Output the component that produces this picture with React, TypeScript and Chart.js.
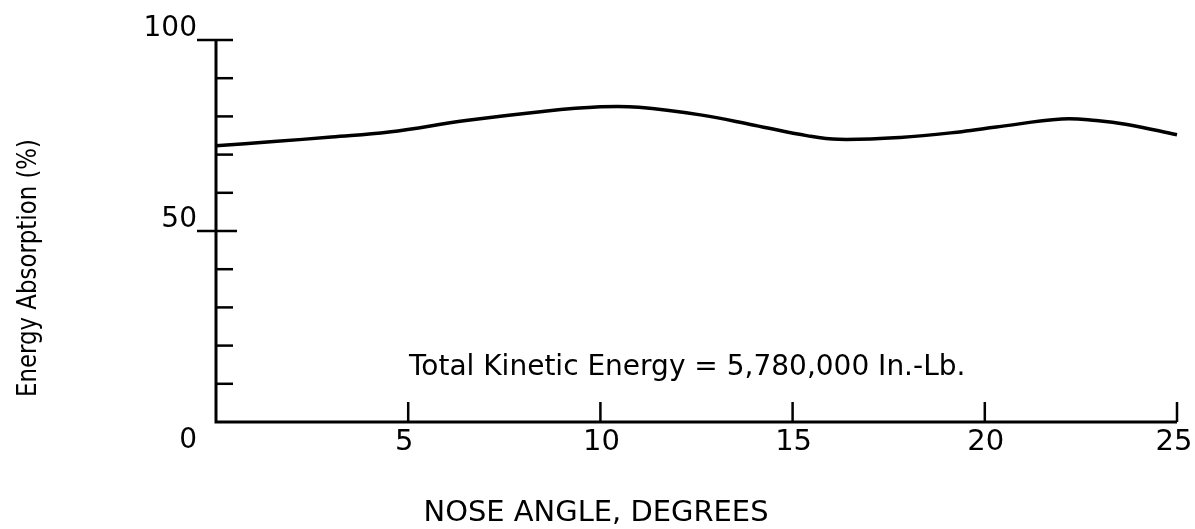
import React, { useEffect, useRef } from "react";
import { Chart, registerables } from "chart.js";

Chart.register(...registerables);

const angles = [0, 1.5, 3, 4.5, 6.5, 8.5, 10, 11, 12.6, 14, 15.4, 16.2, 17.8, 19.4, 20.3, 22.0, 22.9, 23.7, 25];
const absorption = [72.3, 73.4, 74.6, 75.9, 78.9, 81.3, 82.5, 82.4, 80.4, 77.7, 74.9, 74.0, 74.5, 76.0, 77.2, 79.3, 78.9, 77.9, 75.2];

const xTickValues = [5, 10, 15, 20, 25];
const xTickLabels = ["5", "10", "15", "20", "25"];
const yTickValues = [10, 20, 30, 40, 50, 60, 70, 80, 90, 100];
const yLabelValues = [0, 50, 100];
const yLabelTexts = ["0", "50", "100"];

const annotationText = "Total Kinetic Energy = 5,780,000 In.-Lb.";
const xTitle = "NOSE ANGLE, DEGREES";
const yTitle = "Energy Absorption (%)";

const FONT = "'DejaVu Sans', sans-serif";

const axesPlugin = {
  id: "oldAxes",
  afterDatasetsDraw(chart: any) {
    const ctx = chart.ctx as CanvasRenderingContext2D;
    const xs = chart.scales.x;
    const ys = chart.scales.y;
    const x0 = xs.getPixelForValue(0);
    const x1 = xs.getPixelForValue(25);
    const y0 = ys.getPixelForValue(0);
    const y1 = ys.getPixelForValue(100);
    ctx.save();
    ctx.strokeStyle = "#000";
    ctx.fillStyle = "#000";
    ctx.lineCap = "butt";
    // axes
    ctx.lineWidth = 3;
    ctx.beginPath();
    ctx.moveTo(x0, y1);
    ctx.lineTo(x0, y0);
    ctx.lineTo(x1, y0);
    ctx.stroke();
    // y ticks
    ctx.lineWidth = 2.5;
    yTickValues.forEach((v) => {
      const py = ys.getPixelForValue(v);
      const long = yLabelValues.includes(v);
      ctx.beginPath();
      ctx.moveTo(long ? x0 - 19 : x0, py);
      ctx.lineTo(x0 + (v === 50 ? 21 : 17), py);
      ctx.stroke();
    });
    // x ticks
    xTickValues.forEach((v) => {
      const px = xs.getPixelForValue(v);
      ctx.beginPath();
      ctx.moveTo(px, y0);
      ctx.lineTo(px, y0 - 20);
      ctx.stroke();
    });
    // y labels
    ctx.font = `28px ${FONT}`;
    ctx.textAlign = "right";
    ctx.textBaseline = "alphabetic";
    yLabelValues.forEach((v, i) => {
      const py = ys.getPixelForValue(v);
      const base = v === 0 ? py + 26 : py - 4;
      ctx.fillText(yLabelTexts[i], x0 - 19, base);
    });
    // x labels
    ctx.textAlign = "center";
    ctx.font = `29px ${FONT}`;
    xTickValues.forEach((v, i) => {
      const px = xs.getPixelForValue(v);
      const dx = v === 25 ? -3 : v === 5 ? -4 : 1;
      ctx.fillText(xTickLabels[i], px + dx, y0 + 28);
    });
    // annotation
    ctx.textAlign = "left";
    ctx.font = `28px ${FONT}`;
    ctx.fillText(annotationText, xs.getPixelForValue(5.02), ys.getPixelForValue(12.3), 565);
    // x title
    ctx.textAlign = "center";
    ctx.font = `29px ${FONT}`;
    ctx.fillText(xTitle, 596, 521, 345);
    // y title
    ctx.save();
    ctx.translate(36, 268);
    ctx.rotate(-Math.PI / 2);
    ctx.font = `26px ${FONT}`;
    ctx.textAlign = "center";
    ctx.fillText(yTitle, 0, 0, 258);
    ctx.restore();
    ctx.restore();
  },
};

export default function App() {
  const ref = useRef<HTMLCanvasElement>(null);
  useEffect(() => {
    if (!ref.current) return;
    const chart = new Chart(ref.current, {
      type: "line",
      data: {
        datasets: [
          {
            data: angles.map((a, i) => ({ x: a, y: absorption[i] })),
            borderColor: "#000",
            borderWidth: 3.5,
            pointRadius: 0,
            tension: 0.4,
            fill: false,
            clip: false as any,
          },
        ],
      },
      options: {
        animation: false,
        responsive: false,
        devicePixelRatio: 1,
        layout: { padding: { left: 216, right: 18, top: 40, bottom: 107 } },
        plugins: { legend: { display: false }, tooltip: { enabled: false } },
        scales: {
          x: { type: "linear", min: 0, max: 25, display: false },
          y: { type: "linear", min: 0, max: 100, display: false },
        },
      },
      plugins: [axesPlugin],
    });
    return () => chart.destroy();
  }, []);
  return (
    <div style={{ position: "absolute", left: 0, top: 0, width: 1195, height: 529, background: "#fff" }}>
      <canvas ref={ref} width={1195} height={529} />
    </div>
  );
}
